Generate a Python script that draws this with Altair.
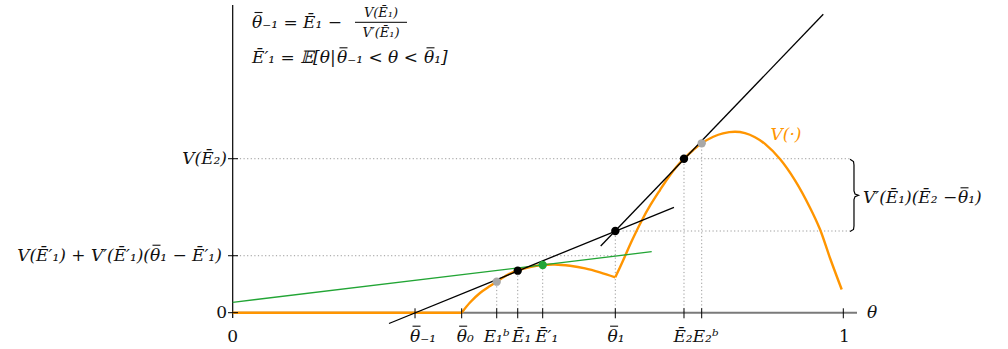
import altair as alt
import pandas as pd

EB = "\u0112"     # E with bar

# marked types on the horizontal axis (a bar is drawn over the θ ones)
tick_names = ["θ₋₁", "θ₀", "E₁ᵇ", EB + "₁", EB + "′₁", "θ₁", EB + "₂", "E₂ᵇ", "1"]
tick_x = [0.2986, 0.3750, 0.4324, 0.4668, 0.5077, 0.6266, 0.7391, 0.7681, 1.0]
tick_barred = [True, True, False, False, False, True, False, False, False]
label_dx = [-5, -5, 0, 4, 4, -7.7, -1, 4, 1]

# value function V(θ): zero, a first hump up to the kink at θ̄1, then a second hump
flat_x = [0.0, 0.3750]
flat_y = [0.0, 0.0]
hump1_x = [0.3750, 0.3886, 0.4050, 0.4214, 0.4324, 0.4509, 0.4668, 0.4869, 0.5077,
           0.5278, 0.5524, 0.5770, 0.6015, 0.6266]
hump1_y = [0.0000, 0.0167, 0.0323, 0.0437, 0.0508, 0.0626, 0.0691, 0.0748, 0.0781,
           0.0789, 0.0768, 0.0727, 0.0662, 0.0580]
hump2_x = [0.6266, 0.6397, 0.6539, 0.6698, 0.6842, 0.6998, 0.7129, 0.7272, 0.7391,
           0.7539, 0.7681, 0.7871, 0.8030, 0.8226, 0.8390, 0.8554, 0.8718, 0.8963,
           0.9209, 0.9455, 0.9618, 0.9782, 0.9974]
hump2_y = [0.0580, 0.0863, 0.1182, 0.1507, 0.1764, 0.2009, 0.2206, 0.2394, 0.2522,
           0.2660, 0.2774, 0.2882, 0.2938, 0.2963, 0.2941, 0.2874, 0.2764, 0.2516,
           0.2167, 0.1720, 0.1366, 0.0896, 0.0380]

# marked points
gray_x = [0.4324, 0.7681]
gray_y = [0.0508, 0.2774]
black_x = [0.4668, 0.6266, 0.7391]
black_y = [0.0688, 0.1338, 0.2522]
green_x = [0.5077]
green_y = [0.0781]

# straight lines (end points)
tangent1_x = [0.2560, 0.7227]
tangent1_y = [-0.0177, 0.1726]
steep_x = [0.6027, 0.9672]
steep_y = [0.1092, 0.4887]
green_line_x = [0.0, 0.6862]
green_line_y = [0.0170, 0.0999]

# levels marked on the vertical axis
level_E2 = black_y[2]
level_theta1 = black_y[1]
level_green = 0.0933
ytick_y = [0.0, level_green, level_E2]

# curly brace beside the right end of the guides
brace_x = [1.0110, 1.0167, 1.0175, 1.0175, 1.0192, 1.0249, 1.0192, 1.0175, 1.0175, 1.0167, 1.0110]
brace_y = [0.2512, 0.2476, 0.2419, 0.1993, 0.1944, 0.1923, 0.1901, 0.1852, 0.1420, 0.1363, 0.1330]

ORANGE = "#ff9500"
GREEN = "#22a535"
GRAY = "#a8a8a8"
INK = "#111"
FONT = "DejaVu Serif"
FS = 17

# one unit of θ spans 610.6 px, origin at (232.7, 312.7) px
UNIT, OX, OY = 610.6, 232.7, 312.7
xs = alt.Scale(domain=[-OX / UNIT, (1008 - OX) / UNIT], nice=False, zero=False)
ys = alt.Scale(domain=[(OY - 349) / UNIT, OY / UNIT], nice=False, zero=False)


def P(px):
    return (px - OX) / UNIT


def Q(py):
    return (OY - py) / UNIT


def X(f="x"):
    return alt.X(f + ":Q", scale=xs, axis=None)


def Y(f="y"):
    return alt.Y(f + ":Q", scale=ys, axis=None)


def segs(rows):
    return pd.DataFrame(rows, columns=["x", "x2", "y", "y2"])


def rules(df, **kw):
    return alt.Chart(df).mark_rule(**kw).encode(
        x=X(), x2="x2:Q", y=Y(), y2="y2:Q")


def line(xv, yv, color, width, interp="linear"):
    df = pd.DataFrame({"x": xv, "y": yv, "i": range(len(xv))})
    return alt.Chart(df).mark_line(color=color, strokeWidth=width, interpolate=interp).encode(
        x=X(), y=Y(), order="i:Q")


def text(s, x, y, align="left", size=FS, style="italic", color=INK, dx=0):
    df = pd.DataFrame({"x": [x], "y": [y], "t": [s]})
    kw = dict(align=align, baseline="middle", font=FONT, fontSize=size, color=color, dx=dx)
    if style:
        kw["fontStyle"] = style
    return alt.Chart(df).mark_text(**kw).encode(x=X(), y=Y(), text="t:N")


def theta_bar(left_px, mid_py):
    # bar over an italic θ whose left edge is at left_px, text centred at mid_py
    return [P(left_px + 2.5), P(left_px + 10.5), Q(mid_py - 10.5), Q(mid_py - 10.5)]


brace_end = brace_x[0]

# dotted guides
guides = segs(
    [[0.0, brace_end, level_E2, level_E2],
     [black_x[1], brace_end, level_theta1, level_theta1],
     [0.0, black_x[1], level_green, level_green]]
    + [[px, px, 0.0, py] for px, py in zip(gray_x + black_x + green_x, gray_y + black_y + green_y)]
)

layers = []
layers.append(rules(segs([[0.0, P(857), 0.0, 0.0]]), color="#7a7a7a", strokeWidth=2))
layers.append(rules(guides, color="#9a9a9a", strokeWidth=1, strokeDash=[1.2, 2.4]))
layers.append(rules(segs([[0.0, 0.0, Q(318), Q(5)]]), color="#000", strokeWidth=1.2))

layers.append(line(flat_x, flat_y, ORANGE, 2.4))
layers.append(line(hump1_x, hump1_y, ORANGE, 2.4, "catmull-rom"))
layers.append(line(hump2_x, hump2_y, ORANGE, 2.4, "catmull-rom"))

layers.append(rules(segs([[t, t, Q(318.3), Q(308.3)] for t in tick_x]), color="#000", strokeWidth=1))
layers.append(rules(segs([[P(228), P(238), v, v] for v in ytick_y]), color="#000", strokeWidth=1))

layers.append(line(green_line_x, green_line_y, GREEN, 1.3))
layers.append(line(tangent1_x, tangent1_y, "#000", 1.3))
layers.append(line(steep_x, steep_y, "#000", 1.3))
layers.append(line(brace_x, brace_y, "#000", 1.2))

for xv, yv, c in [(gray_x, gray_y, GRAY), (black_x, black_y, "#000"), (green_x, green_y, GREEN)]:
    layers.append(alt.Chart(pd.DataFrame({"x": xv, "y": yv})).mark_point(
        filled=True, size=70, color=c, opacity=1).encode(x=X(), y=Y()))

bars = []
LAB_Y = 336.7

# horizontal axis labels
for name, t, barred, d in zip(tick_names, tick_x, tick_barred, label_dx):
    if barred:
        layers.append(text(name, t, Q(LAB_Y), align="left", dx=d))
        bars.append(theta_bar(OX + t * UNIT + d, LAB_Y))
    else:
        layers.append(text(name, t, Q(LAB_Y), align="center", dx=d,
                           style=None if name == "1" else "italic"))
layers.append(text("0", 0.0, Q(LAB_Y), align="center", style=None))
layers.append(text("θ", P(872), 0.0, align="center"))

# vertical axis labels
layers.append(text("0", P(227), 0.0, align="right", style=None))
layers.append(text("V(" + EB + "₂)", P(227), level_E2, align="right"))
mid = OY - level_green * UNIT
layers.append(text("V(" + EB + "′₁) + V′(" + EB + "′₁)(", P(150), level_green, align="right"))
layers.append(text("θ₁ − " + EB + "′₁)", P(150), level_green))
bars.append(theta_bar(150, mid))

# annotations
layers.append(text("V(·)", P(786), Q(135), align="center", color=ORANGE))
layers.append(text("V′(" + EB + "₁)(" + EB + "₂ −", P(863), Q(198.3)))
layers.append(text("θ₁)", P(958), Q(198.3)))
bars.append(theta_bar(958, 198.3))

layers.append(text("θ₋₁ = " + EB + "₁ −", P(252), Q(23)))
bars.append(theta_bar(252, 23))
layers.append(text("V(" + EB + "₁)", P(381), Q(13.2), align="center", size=13))
layers.append(text("V′(" + EB + "₁)", P(381), Q(33), align="center", size=13))
layers.append(rules(segs([[P(355), P(407), Q(22.3), Q(22.3)]]), color="#000", strokeWidth=1))

layers.append(text(EB + "′₁ = 𝔼[θ|", P(252), Q(58.3)))
layers.append(text("θ₋₁ < θ <", P(337), Q(58.3)))
layers.append(text("θ₁]", P(424), Q(58.3)))
bars.append(theta_bar(337, 58.3))
bars.append(theta_bar(424, 58.3))

layers.append(rules(segs(bars), color=INK, strokeWidth=1.1))

chart = alt.layer(*layers).properties(
    width=1008, height=349, autosize="none", padding=0
).configure_view(stroke=None)

chart.save("out.html", embed_options={"renderer": "svg", "actions": False})
